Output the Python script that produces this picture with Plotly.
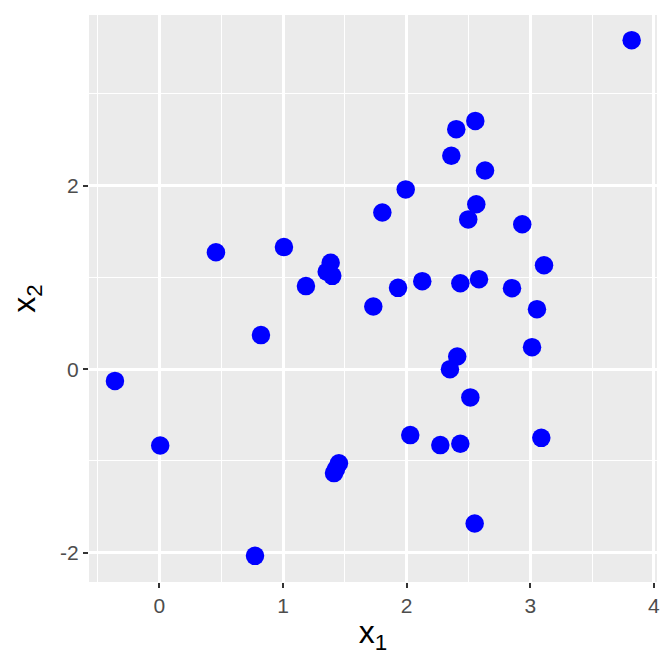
import plotly.graph_objects as go

x1 = [-0.360, 0.006, 0.457, 0.821, 0.773, 1.007, 1.185, 1.353, 1.385, 1.398,
      1.412, 1.428, 1.452, 1.730, 1.803, 1.930, 1.992, 2.029, 2.126, 2.272,
      2.350, 2.361, 2.401, 2.409, 2.434, 2.434, 2.498, 2.515, 2.555, 2.563,
      2.550, 2.585, 2.634, 2.852, 2.935, 3.014, 3.054, 3.089, 3.111, 3.820]
x2 = [-0.128, -0.832, 1.275, 0.371, -2.035, 1.330, 0.905, 1.061, 1.159, 1.017,
      -1.133, -1.090, -1.025, 0.683, 1.708, 0.886, 1.959, -0.719, 0.959, -0.828,
      0.000, 2.325, 2.616, 0.138, 0.937, -0.814, 1.632, -0.308, 2.706, 1.798,
      -1.682, 0.981, 2.166, 0.883, 1.580, 0.240, 0.654, -0.749, 1.133, 3.586]

x_ticks = [0, 1, 2, 3, 4]
y_ticks = [-2, 0, 2]

fig = go.Figure(go.Scatter(
    x=x1, y=x2, mode="markers",
    marker=dict(color="#0000FF", size=18.5, line=dict(width=0)),
    showlegend=False,
))

axis_common = dict(
    showgrid=True, gridcolor="white", gridwidth=2.7,
    zeroline=False, showline=False,
    ticks="outside", ticklen=5, tickwidth=2.2, tickcolor="#333333",
    tickfont=dict(family="Liberation Sans, Arial", size=21, color="#4D4D4D"),
    title_font=dict(family="Liberation Sans, Arial", size=32, color="black"),
    automargin=False,
)

fig.update_xaxes(
    range=[-0.57, 4.025], tickvals=x_ticks, ticktext=[str(v) for v in x_ticks],
    minor=dict(dtick=0.5, tick0=-0.5, showgrid=True, gridcolor="white", gridwidth=1.4),
    title_text="x<sub>1</sub>", title_standoff=4,
    **axis_common,
)
fig.update_yaxes(
    range=[-2.32, 3.86], tickvals=y_ticks, ticktext=[str(v) for v in y_ticks],
    minor=dict(dtick=1, tick0=-3, showgrid=True, gridcolor="white", gridwidth=1.4),
    title_text="x<sub>2</sub>", title_standoff=14,
    **axis_common,
)

fig.update_layout(
    width=672, height=672,
    margin=dict(l=89, r=15, t=15, b=90),
    plot_bgcolor="#EBEBEB", paper_bgcolor="white",
)

fig.write_html("out.html", config={"displayModeBar": False},
               post_script="document.body.style.margin='0px';")
